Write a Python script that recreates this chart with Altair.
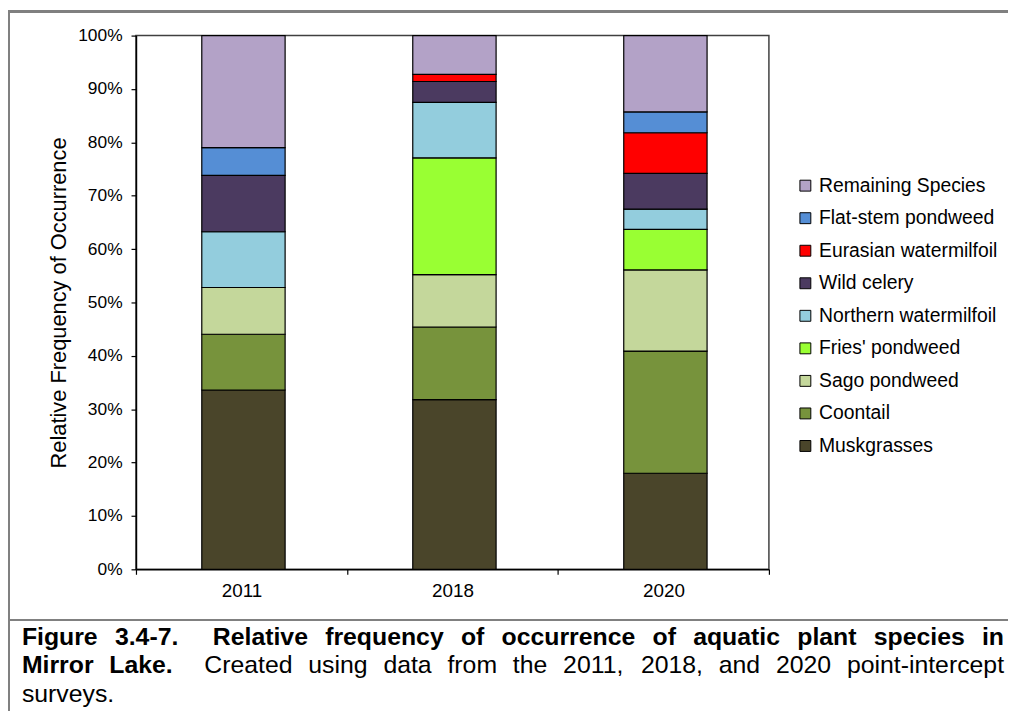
import altair as alt
import pandas as pd

# ---------------- data ----------------
years = ["2011", "2018", "2020"]
# stacking order, bottom to top
species = ["Muskgrasses", "Coontail", "Sago pondweed", "Fries' pondweed",
           "Northern watermilfoil", "Wild celery", "Eurasian watermilfoil",
           "Flat-stem pondweed", "Remaining Species"]
muskgrasses = [33.6, 31.8, 18.0]
coontail = [10.45, 13.6, 22.9]
sago = [8.75, 9.8, 15.2]
fries = [0.0, 21.9, 7.6]
northern = [10.45, 10.4, 3.8]
wild_celery = [10.55, 3.9, 6.7]
eurasian = [0.0, 1.35, 7.6]
flat_stem = [5.2, 0.0, 3.9]
remaining = [21.0, 7.25, 14.3]
series = [muskgrasses, coontail, sago, fries, northern, wild_celery,
          eurasian, flat_stem, remaining]
colors = ["#4A452A", "#77933C", "#C4D79B", "#99FF33", "#93CDDD",
          "#4B3A60", "#FF0000", "#558ED5", "#B3A2C7"]
y_ticks = [0, 10, 20, 30, 40, 50, 60, 70, 80, 90, 100]

caption1 = "Figure 3.4-7.  Relative frequency of occurrence of aquatic plant species in"
caption2_bold = "Mirror Lake."
caption2_reg = "Created using data from the 2011, 2018, and 2020 point-intercept"
caption3 = "surveys."

rows = []
for i, (sp, vals) in enumerate(zip(species, series)):
    for yr, v in zip(years, vals):
        rows.append({"year": yr, "species": sp, "value": v, "idx": i})
df = pd.DataFrame(rows)

legend_order = species[::-1]
legend_colors = colors[::-1]

# ---------------- layout (pixels) ----------------
W, H = 638, 538
PAD_L, PAD_T = 129, 25
SVG_W, SVG_H = 1008, 705
FONT = "Liberation Sans, Arial, sans-serif"
CAP_SIZE = 25
CAP_X0, CAP_X1 = 22 - 8 - PAD_L, 1012 - 8 - PAD_L

# Helvetica/Arial advance widths (per 1000 em) used to justify the caption
REG = {" ": 278, ",": 278, "-": 333, ".": 278, "'": 191, "%": 889,
       "C": 722, "F": 611, "L": 611, "M": 833, "R": 722,
       "a": 556, "c": 500, "d": 556, "e": 556, "f": 278, "g": 556, "h": 556,
       "i": 222, "k": 500, "l": 222, "m": 833, "n": 556, "o": 556, "p": 556,
       "q": 556, "r": 333, "s": 500, "t": 278, "u": 556, "v": 500, "y": 500}
BOLD = {" ": 278, ",": 278, "-": 333, ".": 278,
        "C": 722, "F": 611, "L": 611, "M": 833, "R": 722,
        "a": 556, "c": 556, "d": 611, "e": 556, "f": 333, "g": 611, "h": 611,
        "i": 278, "k": 556, "l": 278, "m": 889, "n": 611, "o": 611, "p": 611,
        "q": 611, "r": 389, "s": 556, "t": 333, "u": 611, "v": 556, "y": 556}


def wwidth(word, bold):
    tab = BOLD if bold else REG
    return sum(tab.get(ch, 556) for ch in word) * CAP_SIZE / 1000.0


def justify(tokens):
    # tokens: list of (word, bold, n_spaces_after)
    total = sum(wwidth(w, b) for w, b, _ in tokens)
    nsp = sum(s for _, _, s in tokens[:-1])
    sp = (CAP_X1 - CAP_X0 - total) / nsp
    out, x = [], CAP_X0
    for w, b, s in tokens:
        out.append({"w": w, "x": x, "bold": 1 if b else 0})
        x += wwidth(w, b) + s * sp
    return out


def tokenize(text, bold):
    parts = text.split(" ")
    toks = []
    for p in parts:
        if p == "":
            if toks:
                w, b, s = toks[-1]
                toks[-1] = (w, b, s + 1)
        else:
            toks.append((p, bold, 1))
    return toks


t1 = tokenize(caption1, True)
t2 = tokenize(caption2_bold, True)
t2[-1] = (t2[-1][0], True, 2)
t2 += tokenize(caption2_reg, False)
words1 = pd.DataFrame(justify(t1)).assign(line=1)
words2 = pd.DataFrame(justify(t2)).assign(line=2)
words3 = pd.DataFrame([{"w": caption3, "x": CAP_X0, "bold": 0, "line": 3}])
words = pd.concat([words1, words2, words3], ignore_index=True)
line_y = {1: 647 - 8 - PAD_T, 2: 676 - 8 - PAD_T, 3: 705 - 8 - PAD_T}
words["y"] = words["line"].map(line_y)

# ---------------- chart ----------------
bars = alt.Chart(df).transform_filter("datum.value > 0").mark_bar(
    width=84, stroke="black", strokeWidth=1.2, xOffset=2
).encode(
    x=alt.X("year:N", sort=years, title=None,
            scale=alt.Scale(paddingInner=0, paddingOuter=0),
            axis=alt.Axis(tickBand="extent", labelAngle=0, labelFontSize=19,
                          labelFont=FONT, labelColor="black", tickColor="black",
                          domainColor="black", domainWidth=1.5, tickSize=5,
                          tickWidth=1.2, labelPadding=7, grid=False)),
    y=alt.Y("value:Q", stack="zero",
            scale=alt.Scale(domain=[0, 100], nice=False),
            axis=alt.Axis(values=y_ticks, labelExpr="datum.value + '%'",
                          title="Relative Frequency of Occurrence",
                          titleFont=FONT, titleFontSize=22, titleFontWeight="normal",
                          titleColor="black", titlePadding=7,
                          labelFont=FONT, labelFontSize=17.5, labelColor="black",
                          tickColor="black", tickSize=5, tickWidth=1.2,
                          domainColor="black", domainWidth=1.5,
                          labelPadding=9, grid=False)),
    color=alt.Color("species:N",
                    scale=alt.Scale(domain=legend_order, range=legend_colors),
                    legend=alt.Legend(orient="none", legendX=665, legendY=141.5,
                                      title=None, symbolType="square",
                                      symbolSize=121, symbolStrokeColor="black",
                                      symbolStrokeWidth=1, labelFont=FONT,
                                      labelFontSize=19.5, labelColor="black",
                                      labelLimit=400,
                                      rowPadding=11.8, labelOffset=4,
                                      symbolOpacity=1)),
    order=alt.Order("idx:Q", sort="ascending"),
)

frame_color = "#808080"
left_frame = alt.Chart(df).mark_rule(color=frame_color, strokeWidth=2).encode(
    x=alt.value(-PAD_L + 1), y=alt.value(-PAD_T), y2=alt.value(SVG_H - PAD_T))
top_frame = alt.Chart(df).mark_rule(color=frame_color, strokeWidth=2).encode(
    x=alt.value(-PAD_L), x2=alt.value(SVG_W - PAD_L), y=alt.value(-PAD_T + 1))
sep_line = alt.Chart(df).mark_rule(color=frame_color, strokeWidth=2).encode(
    x=alt.value(-PAD_L), x2=alt.value(SVG_W - PAD_L), y=alt.value(622 - 8 - PAD_T))


def cap_layer(weight, flag):
    return alt.Chart(words).transform_filter(f"datum.bold == {flag}").mark_text(
        align="left", baseline="alphabetic", font=FONT, fontSize=CAP_SIZE,
        color="black", fontWeight=weight
    ).encode(
        x=alt.X("x:Q", scale=None, axis=None),
        y=alt.Y("y:Q", scale=None, axis=None),
        text="w:N",
    )


cap_bold = cap_layer("bold", 1)
cap_reg = cap_layer("normal", 0)

chart = alt.layer(bars, left_frame, top_frame, sep_line, cap_bold, cap_reg).resolve_scale(
    x="independent", y="independent"
).properties(
    width=W, height=H,
    autosize=alt.AutoSizeParams(type="none"),
    padding={"left": PAD_L, "top": PAD_T, "right": SVG_W - PAD_L - W,
             "bottom": SVG_H - PAD_T - H},
    background="white",
).configure_view(stroke="#404040", strokeWidth=1.5)

chart.save("out.html", embed_options={"renderer": "svg", "actions": False})
